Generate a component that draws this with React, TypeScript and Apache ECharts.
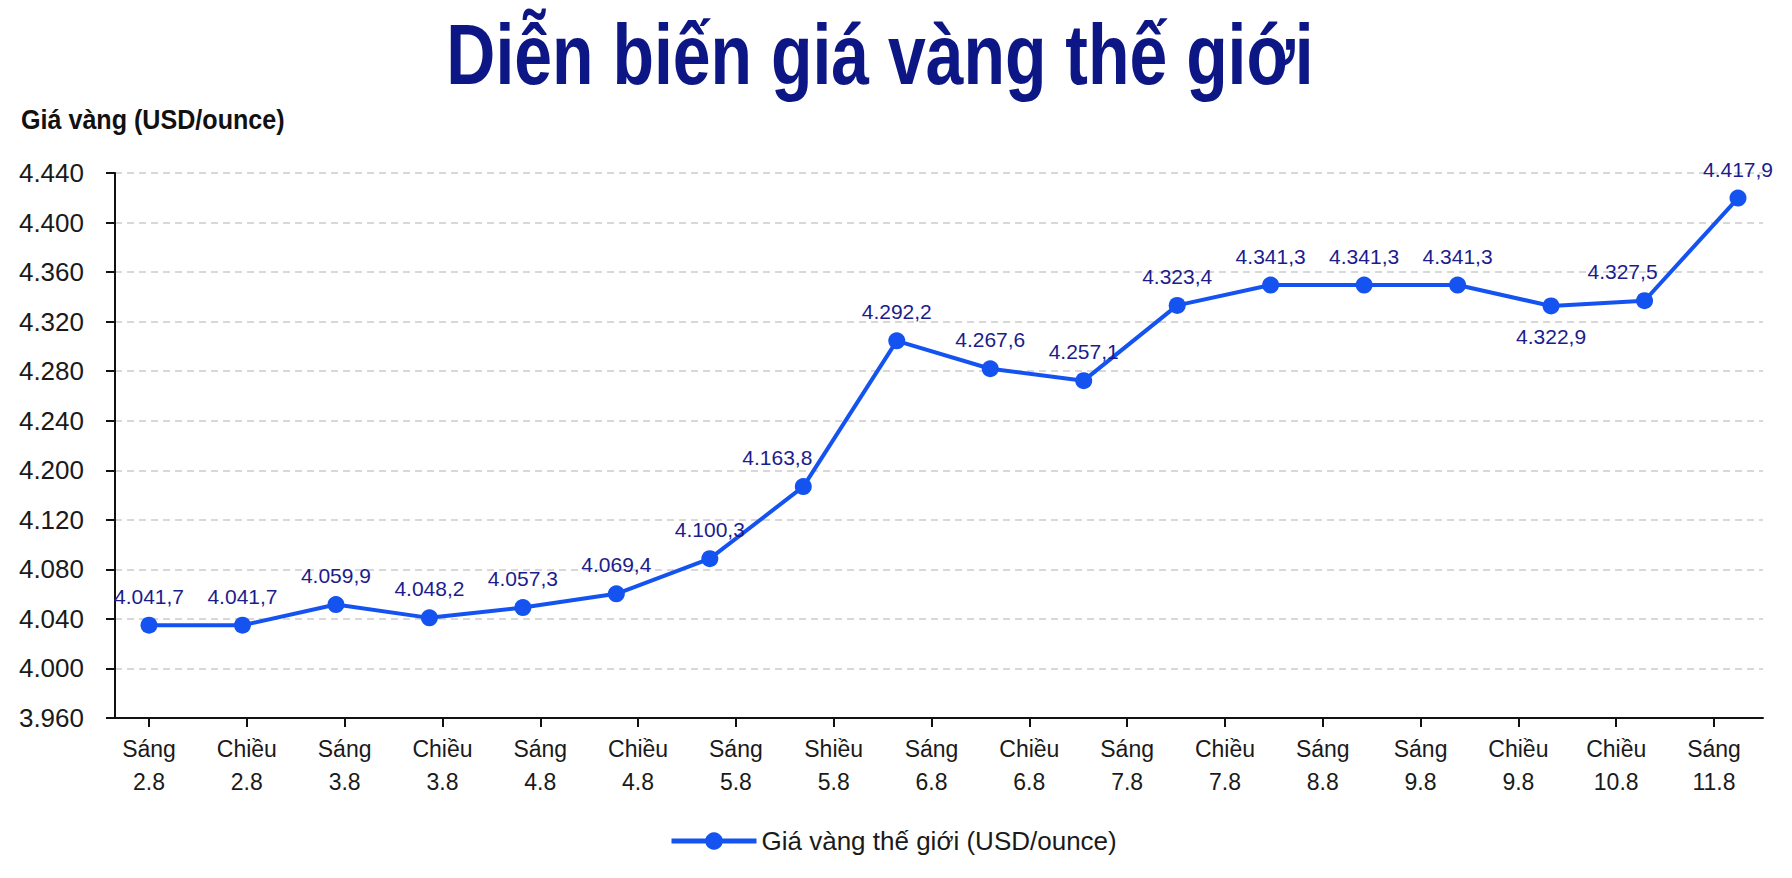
import { useEffect, useRef } from "react";
import * as echarts from "echarts";

const TITLE = "Diễn biến giá vàng thế giới";
const Y_NAME = "Giá vàng (USD/ounce)";
const SERIES_NAME = "Giá vàng thế giới (USD/ounce)";

// nhãn trục X như trong ảnh gốc
const X_LABELS = [
  "Sáng\n2.8", "Chiều\n2.8", "Sáng\n3.8", "Chiều\n3.8", "Sáng\n4.8", "Chiều\n4.8",
  "Sáng\n5.8", "Shiều\n5.8", "Sáng\n6.8", "Chiều\n6.8", "Sáng\n7.8", "Chiều\n7.8",
  "Sáng\n8.8", "Sáng\n9.8", "Chiều\n9.8", "Chiều\n10.8", "Sáng\n11.8",
];
// 18 điểm giá, điểm cuối không có nhãn riêng trên trục
const POINT_KEYS = [...X_LABELS, ""];
const PRICES = [
  4041.7, 4041.7, 4059.9, 4048.2, 4057.3, 4069.4, 4100.3, 4163.8, 4292.2,
  4267.6, 4257.1, 4323.4, 4341.3, 4341.3, 4341.3, 4322.9, 4327.5, 4417.9,
];
const Y_TICKS = [
  "3.960", "4.000", "4.040", "4.080", "4.120", "4.200",
  "4.240", "4.280", "4.320", "4.360", "4.400", "4.440",
];
const Y_MIN = 3960;
const Y_MAX = 4440;

const FONT = "'Liberation Sans', Arial, sans-serif";
const LINE_COLOR = "#1553f0";
const LABEL_COLOR = "#1c1c8c";

const fmtVN = (v: number) => {
  const [i, d] = v.toFixed(1).split(".");
  return i.replace(/\B(?=(\d{3})+(?!\d))/g, ".") + "," + d;
};

const GRID_TOP = 173;
const GRID_BOTTOM = 160;

export default function App() {
  const ref = useRef<HTMLDivElement>(null);

  useEffect(() => {
    if (!ref.current) return;
    const chart = echarts.init(ref.current, undefined, { renderer: "svg" });

    const data = PRICES.map((v, i) => {
      const item: any = { value: v };
      if (i === 15) item.label = { position: "bottom", distance: 12 };
      if (i === 7) item.label = { offset: [-26, 0] };
      if (i === 16) item.label = { offset: [-22, 0] };
      return item;
    });

    const option: echarts.EChartsOption = {
      animation: false,
      backgroundColor: "#ffffff",
      graphic: [
        {
          // chữ hẹp: không có font condensed nên nén ngang
          type: "text", x: 880, y: 54, scaleX: 0.79,
          style: {
            text: TITLE, fill: "#0d1685", align: "center", verticalAlign: "middle",
            font: `bold 86px ${FONT}`,
          },
        },
        {
          type: "text", x: 21, y: 120, scaleX: 0.93,
          style: {
            text: Y_NAME, fill: "#111", align: "left", verticalAlign: "middle",
            font: `bold 27px ${FONT}`,
          },
        },
      ],
      legend: {
        left: 664, top: 823, itemWidth: 85, itemHeight: 22, itemGap: 18,
        data: [SERIES_NAME],
        lineStyle: { width: 5 },
        textStyle: { fontFamily: FONT, fontSize: 26, color: "#1a1a1a" },
      },
      grid: [
        { left: 115, right: 29, top: GRID_TOP, bottom: GRID_BOTTOM },
        { left: 149, right: 78, top: GRID_TOP, bottom: GRID_BOTTOM },
        { left: 149, right: 54, top: GRID_TOP, bottom: GRID_BOTTOM },
      ],
      xAxis: [
        {
          gridIndex: 0, type: "value", min: 0, max: 1,
          axisLine: { show: true, lineStyle: { color: "#111", width: 2 } },
          axisTick: { show: false }, axisLabel: { show: false }, splitLine: { show: false },
        },
        {
          gridIndex: 1, type: "category", data: X_LABELS, boundaryGap: false,
          axisLine: { show: false },
          axisTick: { show: true, length: 9, alignWithLabel: true, lineStyle: { color: "#111", width: 2 } },
          axisLabel: {
            interval: 0, margin: 14, fontFamily: FONT, fontSize: 23, lineHeight: 33, color: "#1a1a1a",
          },
          splitLine: { show: false },
        },
        {
          gridIndex: 2, type: "category", data: POINT_KEYS, boundaryGap: false, show: false,
        },
      ],
      yAxis: [
        {
          gridIndex: 0, type: "value", min: 0, max: Y_TICKS.length - 1, interval: 1,
          axisLine: { show: true, lineStyle: { color: "#111", width: 2 } },
          axisTick: { show: true, length: 9, lineStyle: { color: "#111", width: 2 } },
          axisLabel: {
            margin: 31, fontFamily: FONT, fontSize: 26, color: "#1a1a1a",
            formatter: (v: number) => Y_TICKS[Math.round(v)] ?? "",
          },
          splitLine: { show: true, lineStyle: { color: "#cccccc", type: [7, 5], width: 1.5 } },
        },
        { gridIndex: 1, type: "value", min: 0, max: 1, show: false },
        { gridIndex: 2, type: "value", min: Y_MIN, max: Y_MAX, show: false },
      ],
      series: [
        {
          name: SERIES_NAME, type: "line", xAxisIndex: 2, yAxisIndex: 2,
          data, symbol: "circle", symbolSize: 17,
          lineStyle: { color: LINE_COLOR, width: 4 },
          itemStyle: { color: LINE_COLOR },
          label: {
            show: true, position: "top", distance: 10, color: LABEL_COLOR,
            fontFamily: FONT, fontSize: 21,
            formatter: (p: any) => fmtVN(p.value),
          },
        },
      ],
    };

    chart.setOption(option);
    return () => chart.dispose();
  }, []);

  return (
    <div
      ref={ref}
      style={{ position: "absolute", left: 0, top: 0, width: 1792, height: 878, background: "#fff" }}
    />
  );
}
